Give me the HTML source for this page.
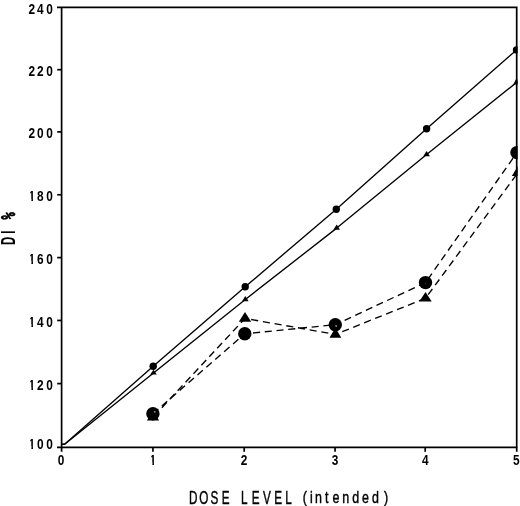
<!DOCTYPE html>
<html><head><meta charset="utf-8"><title>DI % vs Dose Level</title>
<style>html,body{margin:0;padding:0;background:#fff;width:520px;height:506px;overflow:hidden}svg{display:block}</style>
</head><body>
<svg width="520" height="506" viewBox="0 0 520 506">
<defs><clipPath id="k1"><path clip-rule="evenodd" d="M0,0H520V506H0ZM28.57,198.75H31.39V202.03H28.57ZM33.01,198.75H35.68V202.03H33.01ZM28.57,189.57H30.29V194.57H28.57ZM28.57,261.35H31.39V264.63H28.57ZM33.01,261.35H35.68V264.63H33.01ZM28.57,252.17H30.29V257.17H28.57ZM28.57,324.15H31.39V327.43H28.57ZM33.01,324.15H35.68V327.43H33.01ZM28.57,314.97H30.29V319.97H28.57ZM28.57,387.45H31.39V390.73H28.57ZM33.01,387.45H35.68V390.73H33.01ZM28.57,378.27H30.29V383.27H28.57ZM28.57,446.35H31.39V449.63H28.57ZM33.01,446.35H35.68V449.63H33.01ZM28.57,437.17H30.29V442.17H28.57ZM149.57,462.48H152.39V465.76H149.57ZM154.01,462.48H156.68V465.76H154.01ZM149.57,453.30H151.29V458.30H149.57Z"/></clipPath><clipPath id="c"><rect x="0" y="0" width="517.6" height="506"/></clipPath></defs>
<rect width="520" height="506" fill="#fff"/>
<g clip-path="url(#c)" fill="none" stroke="#000" stroke-width="1.35" stroke-linejoin="round" stroke-linecap="round">
<polyline points="62.6,444.1 64.6,444.2 153.2,366.2 245.2,286.8 336.3,209.2 426.6,128.7 516.5,49.9"/>
<polyline points="62.6,444.1 64.6,444.2 153.5,373.0 245.3,299.5 336.7,228.1 426.6,154.5 516.6,82.4"/>
<path stroke-dasharray="7.1 4.70" stroke-dashoffset="11.70" stroke-linecap="butt" d="M152.90,413.80L244.80,333.80"/>
<path stroke-dasharray="7.1 4.68" stroke-dashoffset="3.48" stroke-linecap="butt" d="M244.80,333.80L335.30,324.70"/>
<path stroke-dasharray="7.1 4.63" stroke-dashoffset="1.43" stroke-linecap="butt" d="M335.30,324.70L425.50,282.60"/>
<path stroke-dasharray="7.1 4.65" stroke-dashoffset="7.75" stroke-linecap="butt" d="M425.50,282.60L517.00,152.60"/>
<path stroke-dasharray="7.1 4.50" stroke-dashoffset="10.20" stroke-linecap="butt" d="M153.00,417.20L245.00,318.43"/>
<path stroke-dasharray="7.1 4.77" stroke-dashoffset="5.57" stroke-linecap="butt" d="M245.00,318.43L335.40,334.40"/>
<path stroke-dasharray="7.1 4.70" stroke-dashoffset="4.40" stroke-linecap="butt" d="M335.40,334.40L425.50,298.33"/>
<path stroke-dasharray="7.1 4.70" stroke-dashoffset="7.30" stroke-linecap="butt" d="M425.50,298.33L518.00,172.67"/>
</g>
<g clip-path="url(#c)" fill="#000">
<circle cx="153.2" cy="366.2" r="3.7"/>
<circle cx="245.2" cy="286.8" r="3.7"/>
<circle cx="336.3" cy="209.2" r="3.7"/>
<circle cx="426.6" cy="128.7" r="3.7"/>
<circle cx="516.5" cy="49.9" r="3.7"/>
<polygon points="153.50,369.80 156.80,374.60 150.20,374.60"/>
<polygon points="245.30,296.10 248.60,301.20 242.00,301.20"/>
<polygon points="336.70,224.60 340.00,229.80 333.40,229.80"/>
<polygon points="426.60,150.90 429.90,156.30 423.30,156.30"/>
<polygon points="516.60,78.00 519.90,84.60 513.30,84.60"/>
<polygon points="153.00,410.60 159.10,420.50 146.90,420.50"/>
<polygon points="245.00,311.90 251.20,321.70 238.80,321.70"/>
<polygon points="335.40,327.80 341.30,337.70 329.50,337.70"/>
<polygon points="425.50,292.00 431.70,301.50 419.30,301.50"/>
<polygon points="518.00,166.00 524.20,176.00 511.80,176.00"/>
<circle cx="152.9" cy="413.8" r="6.7"/>
<circle cx="244.8" cy="333.8" r="6.7"/>
<circle cx="335.3" cy="324.7" r="6.7"/>
<circle cx="425.5" cy="282.6" r="6.7"/>
<circle cx="517.0" cy="152.6" r="6.7"/>
<circle cx="336.1" cy="325.9" r="0.75" fill="#e8e8e8"/>
<circle cx="154.8" cy="411.8" r="0.85" fill="#9a9a9a"/>
<circle cx="425.4" cy="283.6" r="0.6" fill="#444"/>
</g>
<g fill="none" stroke="#000" stroke-width="1.7">
<path d="M57,7.3 H516.7 V447.3 H57 M61.6,7.3 V451.8"/>
<path d="M57.2,69.70 H61.7"/>
<path d="M57.2,131.90 H61.7"/>
<path d="M57.2,194.76 H61.7"/>
<path d="M57.2,257.60 H61.7"/>
<path d="M57.2,320.45 H61.7"/>
<path d="M57.2,383.60 H61.7"/>
<path d="M152.93,447.3 V451.8"/>
<path d="M244.20,447.3 V451.8"/>
<path d="M335.05,447.3 V451.8"/>
<path d="M425.20,447.3 V451.8"/>
<path d="M516.70,447.3 V451.8"/>
</g>
<g clip-path="url(#k1)"><g transform="scale(0.765,1)" font-family="Liberation Sans, sans-serif" font-weight="bold" font-size="15.5" fill="#000"><text x="37.30 48.42 60.41" y="14.13">240</text><text x="37.30 48.54 60.41" y="76.43">220</text><text x="37.30 48.51 60.41" y="138.43">200</text><text x="37.41 48.49 60.41" y="201.23">180</text><text x="37.41 48.50 60.41" y="263.83">160</text><text x="37.41 48.42 60.41" y="326.63">140</text><text x="37.41 48.54 60.41" y="389.93">120</text><text x="37.41 48.51 60.41" y="448.83">100</text><text x="75.64" y="464.96">0</text><text x="195.58" y="464.96">1</text><text x="314.75" y="464.96">2</text><text x="433.77" y="464.96">3</text><text x="551.69" y="464.96">4</text><text x="670.63" y="464.96">5</text></g></g>
<text transform="scale(0.64,1)" font-family="Liberation Sans, sans-serif" font-weight="normal" font-size="18.3" stroke="#000" stroke-width="0.45" x="295.19 311.25 328.98 346.66 367.19 376.73 393.31 410.85 428.46 445.64 462.50" y="504.0">DOSE LEVEL </text>
<text transform="scale(0.75,1)" font-family="Liberation Sans, sans-serif" font-weight="normal" font-size="16.6" stroke="#000" stroke-width="0.45" x="403.70 413.43 419.97 433.43 443.40 456.37 469.57 482.73 495.90 511.97" y="503.0">(intended)</text>
<text transform="translate(14.5,0) rotate(-90) scale(0.58,1)" font-family="Liberation Sans, sans-serif" font-weight="bold" font-size="19.6" x="-422.49 -402.90" y="0">DI <tspan x="-378.52" textLength="12.55" lengthAdjust="spacingAndGlyphs" font-family="DejaVu Sans Mono, monospace" stroke="#000" stroke-width="0.9">%</tspan></text>
</svg>
</body></html>
